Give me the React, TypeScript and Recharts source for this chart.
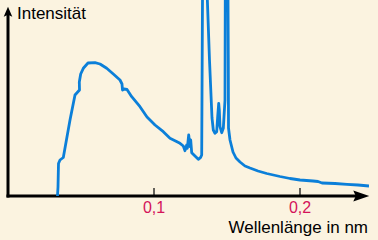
import React from 'react';
import { LineChart, Line, XAxis, YAxis, ReferenceLine } from 'recharts';

// wavelength in nm
const wavelengths: number[] = [
  0.0339, 0.03425, 0.03459, 0.03562, 0.03788, 0.04247, 0.04589, 0.04897, 0.04884, 0.04979,
  0.05158, 0.05479, 0.05959, 0.06301, 0.0676, 0.07212, 0.07671, 0.07808, 0.07842, 0.07945,
  0.08151, 0.08473, 0.09041, 0.09521, 0.10068, 0.10637, 0.11096, 0.11438, 0.11781, 0.12007,
  0.12123, 0.1224, 0.12281, 0.12377, 0.12466, 0.12514, 0.12582, 0.12808, 0.13034, 0.13199,
  0.13267, 0.13356, 0.13411, 0.13801, 0.13973, 0.14062, 0.14178, 0.14295, 0.14363, 0.14432,
  0.14473, 0.14521, 0.14637, 0.14747, 0.14795, 0.14863, 0.149, 0.15034, 0.15089, 0.15103,
  0.15205, 0.15411, 0.15616, 0.1589, 0.16233, 0.16575, 0.17123, 0.17719, 0.1863, 0.19315,
  0.2, 0.2089, 0.21233, 0.21507, 0.22397, 0.23219, 0.23973, 0.24726,
];
// intensity (arbitrary units)
const intensities: number[] = [
  0, 9, 32.5, 36, 38.5, 76, 101, 106, 114, 122,
  127.7, 133, 133.3, 132, 127.7, 122, 116, 112, 106, 107,
  106.5, 99.3, 89.3, 79, 71, 64.3, 57.7, 55.3, 52.7, 50,
  45.3, 51, 47.7, 61, 49.3, 56, 43.3, 40, 36.7, 38.7,
  41, 296, 296, 136, 78, 66, 62.7, 64.3, 79.3, 92.7,
  86, 69.3, 63.3, 67.7, 79.3, 96, 296, 296, 136, 68,
  56, 44, 38, 34, 30, 28, 25, 22.5, 19.5, 17.5,
  16, 15, 14.5, 13, 12.5, 11.7, 11, 10,
];
const xTicks: number[] = [0.1, 0.2];
const xMax = 0.24726;
const yMax = 196;
const xArrowEnd = 0.2382;
const yArrowEnd = 181.3;

const data = wavelengths.map((wl, i) => ({ wl, intensity: intensities[i] }));

const FONT = '"Liberation Sans", Arial, Helvetica, sans-serif';

export default function App() {
  return (
    <div style={{ position: 'absolute', left: 0, top: 0, width: 378, height: 240, background: '#FBF3E0' }}>
      <svg width={0} height={0} style={{ position: 'absolute' }}>
        <defs>
          <marker id="arrowX" markerUnits="userSpaceOnUse" markerWidth={17} markerHeight={12} refX={2.5} refY={5.5} orient="auto" overflow="visible">
            <path d="M0,0 L16,5.5 L0,11 L2.5,5.5 Z" fill="#000" />
          </marker>
          <marker id="arrowY" markerUnits="userSpaceOnUse" markerWidth={11} markerHeight={9} refX={2} refY={4.3} orient="auto" overflow="visible">
            <path d="M0,0 L10,4.3 L0,8.6 L2,4.3 Z" fill="#000" />
          </marker>
        </defs>
      </svg>
      <LineChart width={378} height={240} data={data} margin={{ top: 0, right: 9, bottom: 0, left: 0 }} style={{ fontFamily: FONT }}>
        <XAxis
          type="number"
          dataKey="wl"
          domain={[0, xMax]}
          allowDataOverflow
          ticks={xTicks}
          height={44}
          axisLine={false}
          tickSize={-8}
          tickMargin={14}
          tickLine={{ stroke: '#000', strokeWidth: 1.2 }}
          tick={{ fill: '#D4145A', fontSize: 16, fontFamily: FONT }}
          tickFormatter={(v: number) => String(v).replace('.', ',')}
          label={{
            content: (props: any) => {
              const vb = props.viewBox || { x: 8, y: 196, width: 361, height: 44 };
              return (
                <text x={vb.x + vb.width - 1} y={vb.y + 36.5} textAnchor="end" fontSize={17} fill="#000" fontFamily={FONT}>
                  Wellenlänge in nm
                </text>
              );
            },
          }}
        />
        <YAxis
          type="number"
          width={8}
          domain={[0, yMax]}
          allowDataOverflow
          axisLine={false}
          tickLine={false}
          tick={false}
          label={{
            content: (props: any) => {
              const vb = props.viewBox || { x: 0, y: 0, width: 8, height: 196 };
              return (
                <text x={vb.x + vb.width + 9} y={vb.y + 19} textAnchor="start" fontSize={17} fill="#000" fontFamily={FONT}>
                  Intensität
                </text>
              );
            },
          }}
        />
        <ReferenceLine
          segment={[{ x: 0, y: 0 }, { x: xArrowEnd, y: 0 }]}
          ifOverflow="visible"
          stroke="#000"
          strokeWidth={3}
          strokeLinecap="square"
          markerEnd="url(#arrowX)"
        />
        <ReferenceLine
          segment={[{ x: 0, y: 0 }, { x: 0, y: yArrowEnd }]}
          ifOverflow="visible"
          stroke="#000"
          strokeWidth={3}
          strokeLinecap="square"
          markerEnd="url(#arrowY)"
        />
        <Line
          type="linear"
          dataKey="intensity"
          stroke="#0B7FD9"
          strokeWidth={2.8}
          strokeLinejoin="round"
          dot={false}
          activeDot={false}
          isAnimationActive={false}
        />
      </LineChart>
    </div>
  );
}
